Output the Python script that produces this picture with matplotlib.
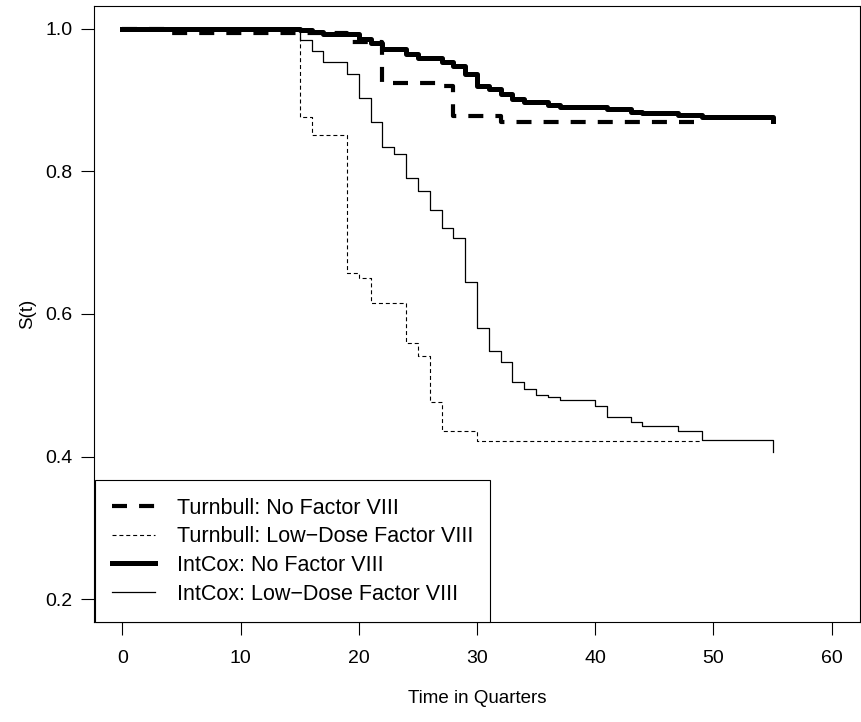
import matplotlib
matplotlib.use("Agg")
import matplotlib.pyplot as plt

plt.rcParams['font.family'] = ['Liberation Sans', 'DejaVu Sans']

# Turnbull estimate, no Factor VIII
tb_none_t = [0, 4, 19, 22, 27, 28, 32, 49]
tb_none_s = [1.0, 0.994, 0.982, 0.924, 0.920, 0.878, 0.869, 0.869]

# Turnbull estimate, low-dose Factor VIII
tb_low_t = [0, 15, 16, 19, 20, 21, 24, 25, 26, 27, 30, 49]
tb_low_s = [1.0, 0.876, 0.851, 0.658, 0.651, 0.615, 0.560, 0.541, 0.476,
            0.436, 0.422, 0.422]

# IntCox estimate, no Factor VIII
ic_none_t = [0, 15, 16, 17, 20, 21, 22, 24, 25, 27, 28, 29, 30, 31, 32, 33,
             34, 36, 37, 41, 43, 44, 47, 49, 55]
ic_none_s = [1.0, 0.998, 0.995, 0.993, 0.986, 0.980, 0.972, 0.965, 0.959,
             0.953, 0.948, 0.937, 0.920, 0.915, 0.909, 0.902, 0.897, 0.893,
             0.891, 0.888, 0.884, 0.882, 0.879, 0.876, 0.871]

# IntCox estimate, low-dose Factor VIII
ic_low_t = [0, 15, 16, 17, 19, 20, 21, 22, 23, 24, 25, 26, 27, 28, 29, 30,
            31, 32, 33, 34, 35, 36, 37, 40, 41, 43, 44, 47, 49, 55]
ic_low_s = [1.0, 0.985, 0.969, 0.954, 0.936, 0.903, 0.870, 0.834, 0.824,
            0.791, 0.773, 0.746, 0.721, 0.706, 0.645, 0.581, 0.548, 0.532,
            0.504, 0.495, 0.487, 0.483, 0.479, 0.471, 0.455, 0.448, 0.443,
            0.436, 0.423, 0.407]

labels = ["Turnbull: No Factor VIII", "Turnbull: Low\u2212Dose Factor VIII",
          "IntCox: No Factor VIII", "IntCox: Low\u2212Dose Factor VIII"]
x_ticks = [0, 10, 20, 30, 40, 50, 60]
y_ticks = [0.2, 0.4, 0.6, 0.8, 1.0]

fig = plt.figure(figsize=(8.61, 7.22), dpi=100)
ax = fig.add_axes([94 / 861, 1 - 622 / 722, 766 / 861, 616 / 722])

l1, = ax.step(tb_none_t, tb_none_s, where="post", color="black", lw=3.0,
              dashes=(3.6, 2.9), solid_capstyle="butt")
l2, = ax.step(tb_low_t, tb_low_s, where="post", color="black", lw=0.8,
              dashes=(3.6, 2.6))
l3, = ax.step(ic_none_t, ic_none_s, where="post", color="black", lw=3.6)
l4, = ax.step(ic_low_t, ic_low_s, where="post", color="black", lw=0.9)

ax.set_xlim(-2.4, 62.4)
ax.set_ylim(0.168, 1.032)
ax.set_xticks(x_ticks)
ax.set_yticks(y_ticks)
ax.set_yticklabels(["%.1f" % v for v in y_ticks])
ax.tick_params(direction="out", length=9.4, width=0.8, labelsize=14,
               colors="black")
ax.tick_params(axis="x", pad=11)
ax.tick_params(axis="y", pad=6)
for sp in ax.spines.values():
    sp.set_linewidth(0.8)

ax.set_xlabel("Time in Quarters", fontsize=13.5, labelpad=16)
ax.set_ylabel("S(t)", fontsize=13.5, labelpad=7)

leg = ax.legend([l1, l2, l3, l4], labels, loc="lower left",
                bbox_to_anchor=(0.0013, 0.0, 0.516, 0.23), mode="expand",
                borderaxespad=0, fancybox=False, edgecolor="black",
                framealpha=1, fontsize=15.5, handlelength=2.0,
                handletextpad=1.0, labelspacing=0.36, borderpad=0.8)
leg.get_frame().set_linewidth(0.8)

fig.savefig("out.png", dpi=100)
